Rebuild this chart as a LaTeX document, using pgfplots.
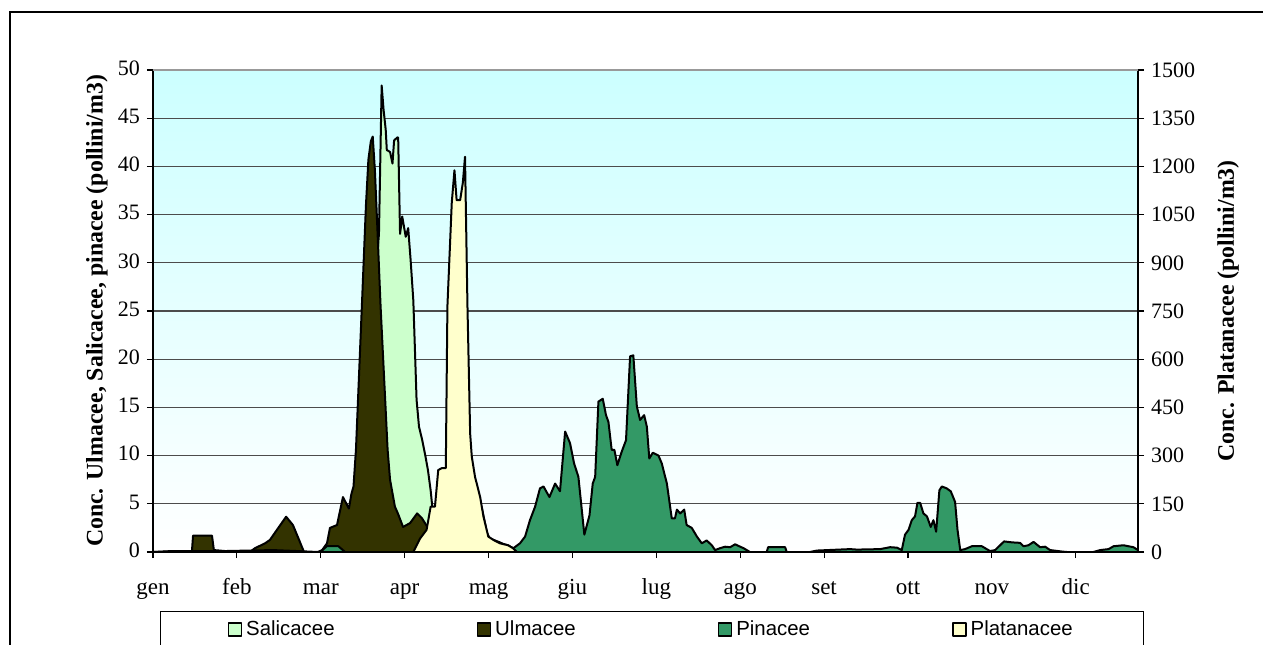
\documentclass[border=0pt]{standalone}
\usepackage{pgfplots}
\pgfplotsset{compat=1.18}
\usepackage{fontspec}
\setmainfont{Liberation Serif}
\newfontfamily\legfont{Liberation Sans}

\definecolor{salic}{HTML}{CCFFCC}
\definecolor{ulmac}{HTML}{333300}
\definecolor{pinac}{HTML}{339966}
\definecolor{platan}{HTML}{FFFFCC}

% 1 px of the reference = 0.5pt
\pgfplotsset{
  pollen/.style={
    at={(0pt,0pt)}, anchor=south west,
    scale only axis, width=492.5pt, height=241pt,
    xmin=0, xmax=364,
    tick align=outside, major tick length=3pt,
    tick style={black, line width=0.6pt},
    axis line style={black, line width=0.6pt},
    tick label style={font=\fontsize{11}{13}\selectfont},
    /pgf/number format/assume math mode=true,
    /pgf/number format/1000 sep={},
  },
  area/.style={draw=black, line width=1pt, line join=round, fill=#1},
}

\begin{document}
\begin{tikzpicture}
\begin{axis}[pollen,
  axis x line*=bottom, axis y line*=left,
  ymin=0, ymax=50, ytick={0,5,...,50},
  xtick={0,31,62,93,124,155,186,217,248,279,310,341},
  xticklabels={gen,feb,mar,apr,mag,giu,lug,ago,set,ott,nov,dic},
  typeset ticklabels with strut,
  xticklabel style={font=\fontsize{11.5}{13}\selectfont, yshift=-5.5pt},
  ymajorgrids, grid style={black!70, line width=0.6pt},
  axis background/.style={top color=cyan!20, bottom color=white},
  ylabel={Conc. Ulmacee, Salicacee, pinacee (pollini/m3)},
  ylabel style={font=\bfseries\fontsize{11.9}{14}\selectfont,
    at={(axis description cs:-0.0569,0.5)}, anchor=center},
]
% Salicacee
\addplot[area=salic] coordinates {
(0,0) (70,0) (74,1) (77,5) (80,20) (83.5,33) (84.5,48.4) (85.2,45.9) (86,43.8)
(86.4,41.7) (87.6,41.5) (88.5,40.3) (89.1,42.7) (90.3,43) (90.6,43) (91.3,33)
(92.1,34.8) (93.4,32.7) (94.3,33.6) (95.2,30.3) (96.2,26.1) (97.4,15.8) (98.3,13)
(99.5,11.6) (100.7,9.9) (101.6,8.5) (102.6,6.4) (103.2,4.7) (106,4.5) (115,4.5)
(121.5,4.6) (123.4,2) (124.5,1.4) (128.2,1) (131.9,0.5) (135.6,0) (364,0)
} \closedcycle;
% Ulmacee
\addplot[area=ulmac] coordinates {
(0,0) (7,0.05) (14.4,0.1) (14.8,1.7) (21.8,1.7) (22.5,0.2) (26.6,0.1) (32.2,0)
(35.8,0) (37.7,0.4) (41.4,0.9) (43.2,1.25) (45.8,2.3) (49.2,3.66) (51.7,2.8)
(54,1.25) (55.8,0) (61,0) (62.5,0.2) (64.3,0.9) (65.4,2.5) (68,2.8) (70.2,5.7)
(72.4,4.5) (73.3,6) (74.1,6.8) (75,10.6) (77.2,25.6) (78.7,36) (79.6,40.7)
(80.5,42.6) (81.2,43.1) (82,39.6) (82.9,33.7) (84.1,25.5) (85.8,15.8) (86.7,10.6)
(87.6,7.5) (89.4,4.7) (90.5,4) (92.4,2.6) (95,3) (97.6,4) (99.4,3.5) (101.6,2.5)
(106,2) (117,1.8) (124.5,1.2) (128.2,0.9) (131.2,0.7) (133,0.4) (134.9,0) (364,0)
} \closedcycle;
% Pinacee
\addplot[area=pinac] coordinates {
(0,0) (7,0.1) (26.6,0.1) (44.3,0.2) (53.2,0.1) (61,0) (62.3,0.1) (64.2,0.6)
(68.5,0.6) (71,0) (128,0) (133.2,0.4) (135.6,0.9) (137.5,1.6) (139.3,3.3)
(141.2,4.7) (143,6.6) (144.3,6.8) (146.5,5.7) (148.6,7.1) (150.4,6.3) (152.3,12.5)
(154.1,11.3) (155.6,9.2) (157.2,7.8) (159.4,1.8) (161.3,3.8) (162.5,7.1)
(163.4,7.8) (164.6,15.6) (166.2,15.9) (167.4,14.2) (168.3,13.5) (169.5,10.6)
(170.5,10.6) (171.6,9) (173.2,10.4) (174.8,11.6) (176.3,20.3) (177.5,20.4)
(178.8,15.1) (180,13.7) (181.5,14.2) (182.5,13) (183.4,9.7) (184.7,10.3)
(186.8,10) (188,9.2) (189.9,7.1) (191.7,3.5) (192.9,3.5) (193.6,4.4) (194.8,4)
(196.3,4.4) (197.2,2.8) (199.1,2.5) (201,1.6) (202.8,0.9) (204.6,1.2) (206.5,0.7)
(207.7,0.2) (209.6,0.4) (211.4,0.55) (213.3,0.5) (215.1,0.8) (217,0.55)
(218.2,0.4) (220.6,0) (226.8,0) (227.3,0.5) (233.6,0.5) (234.2,0) (242.8,0)
(245.3,0.15) (257.6,0.3) (260.1,0.25) (268.7,0.3) (272.4,0.5) (274.9,0.45)
(276.7,0.2) (277.9,1.8) (279.2,2.3) (280.4,3.3) (281.6,3.7) (282.5,5.1)
(283.5,5.1) (284.7,4) (286,3.7) (287.4,2.6) (288.4,3.3) (289.4,2.1) (290.6,6.4)
(291.5,6.8) (293.3,6.6) (294.8,6.3) (296.4,5.2) (297.3,2.3) (298.3,0.2)
(300.1,0.3) (302.6,0.6) (306.3,0.6) (309.3,0.1) (311.2,0.2) (314.5,1.1)
(317.4,1) (320.4,0.95) (321.7,0.6) (323.5,0.7) (325.4,1.05) (327.8,0.5)
(329.7,0.55) (331.5,0.2) (335.8,0.05) (337.7,0) (347.5,0) (350,0.2) (353.1,0.3)
(355,0.6) (358.6,0.7) (362.3,0.5) (364,0.2)
} \closedcycle;
\end{axis}

\begin{axis}[pollen,
  axis x line=none, axis y line*=right,
  ymin=0, ymax=1500, ytick={0,150,...,1500},
  ylabel={Conc. Platanacee (pollini/m3)},
  ylabel style={font=\bfseries\fontsize{11.9}{14}\selectfont,
    at={(axis description cs:1.0914,0.5)}, anchor=center},
  legend columns=4,
  legend style={at={(0.0071,-0.1224)}, anchor=north west, draw=black,
    line width=0.6pt, font=\legfont\fontsize{10.2}{12}\selectfont,
    inner xsep=33.5pt, inner ysep=2.5pt,
    /tikz/every even column/.append style={column sep=69pt}},
  legend image code/.code={\draw[#1, draw=black, line width=0.8pt]
    (0pt,-3.25pt) rectangle (6.5pt,3.25pt);},
]
\addlegendimage{area=salic}\addlegendentry{Salicacee}
\addlegendimage{area=ulmac}\addlegendentry{Ulmacee}
\addlegendimage{area=pinac}\addlegendentry{Pinacee}
% Platanacee (right axis)
\addplot[area=platan] coordinates {
(0,0) (96.2,0) (98.7,42) (101.1,69) (102.6,141) (104.2,141) (105.4,255)
(106.7,261) (108.2,261) (108.8,765) (110.4,1086) (111.4,1188) (112.2,1095)
(113.5,1095) (114.5,1149) (115.3,1230) (116.2,768) (117.2,369) (117.8,297)
(119,234) (120.9,171) (122.1,111) (123.9,48) (125.8,37.5) (128.2,27) (131.2,21)
(133,12) (134.5,0) (364,0)
} \closedcycle;
\addlegendentry{Platanacee}
\end{axis}

\draw[black!40, line width=0.8pt] (0pt,241pt) -- (492.5pt,241pt);
\draw[black, line width=0.7pt] (-71.5pt,-120pt) rectangle (600pt,270pt);
\pgfresetboundingbox
\useasboundingbox (-76.5pt,-46pt) rectangle (555pt,276pt);
\end{tikzpicture}
\end{document}
